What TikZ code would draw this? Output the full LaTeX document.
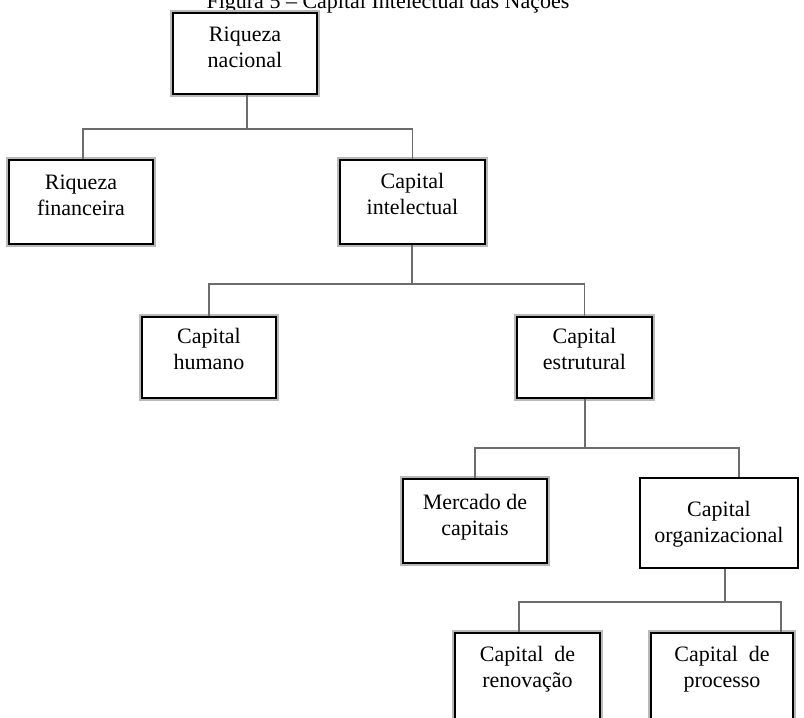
\documentclass[tikz,border=0pt]{standalone}
\usepackage{fontspec}
\setmainfont{Liberation Serif}
\begin{document}
\begin{tikzpicture}[x=1pt,y=-1pt,
  framebox/.style={draw=black, line width=1.5pt, fill=white, inner sep=0pt,
    preaction={draw=gray!55, line width=5.2pt}},
  plainbox/.style={draw=black, line width=1.3pt, fill=white, inner sep=0pt},
  lbl/.style={anchor=base, inner sep=0pt, font=\fontsize{22}{26}\selectfont},
  conn/.style={draw=gray!85!black, line width=1.6pt}]
\useasboundingbox (0,0) rectangle (804,718);
\clip (0,0) rectangle (804,718);

% caption, partly above the page edge
\node[anchor=base, inner sep=0pt, font=\fontsize{22}{26}\selectfont] (title) at (388,8)
  {Figura 5 – Capital Intelectual das Nações};

% boxes (corners given in page pixels)
\node[framebox, minimum width=144, minimum height=81] (rn) at (245,53.5) {};
\node[framebox, minimum width=144, minimum height=84] (rf) at (81,202) {};
\node[framebox, minimum width=145, minimum height=84] (ci) at (412.5,202) {};
\node[framebox, minimum width=134, minimum height=81] (ch) at (209,357.5) {};
\node[framebox, minimum width=135, minimum height=81] (ce) at (584.5,357.5) {};
\node[framebox, minimum width=144, minimum height=84] (mc) at (475,521) {};
\node[plainbox, minimum width=158, minimum height=90] (co) at (719,523) {};
\node[framebox, minimum width=145, minimum height=92] (cr) at (527.5,679) {};
\node[framebox, minimum width=142, minimum height=92] (cp) at (722,679) {};

% labels
\node[lbl] (rnt) at ([yshift=-29]rn.north) {\begin{tabular}[t]{@{}c@{}}Riqueza\\nacional\end{tabular}};
\node[lbl] (rft) at ([yshift=-30]rf.north) {\begin{tabular}[t]{@{}c@{}}Riqueza\\financeira\end{tabular}};
\node[lbl] (cit) at ([yshift=-29]ci.north) {\begin{tabular}[t]{@{}c@{}}Capital\\intelectual\end{tabular}};
\node[lbl] (cht) at ([yshift=-27]ch.north) {\begin{tabular}[t]{@{}c@{}}Capital\\humano\end{tabular}};
\node[lbl] (cet) at ([yshift=-27]ce.north) {\begin{tabular}[t]{@{}c@{}}Capital\\estrutural\end{tabular}};
\node[lbl] (mct) at ([yshift=-31]mc.north) {\begin{tabular}[t]{@{}c@{}}Mercado de\\capitais\end{tabular}};
\node[lbl] (cot) at ([yshift=-39]co.north) {\begin{tabular}[t]{@{}c@{}}Capital\\organizacional\end{tabular}};
\node[lbl] (crt) at ([yshift=-29]cr.north) {\begin{tabular}[t]{@{}c@{}}Capital\ \ de\\renovação\end{tabular}};
\node[lbl] (cpt) at ([yshift=-29]cp.north) {\begin{tabular}[t]{@{}c@{}}Capital\ \ de\\processo\end{tabular}};

% connectors
\coordinate (j1) at (247,129);
\coordinate (j2) at (412,284);
\coordinate (j3) at (585,448);
\coordinate (j4) at (725,602);

\draw[conn] (rn.south -| j1) -- (j1);
\draw[conn] ([xshift=2]rf.north) |- (j1) -| (ci.north);

\draw[conn] (ci.south -| j2) -- (j2);
\draw[conn] (ch.north) |- (j2) -| (ce.north);

\draw[conn] (ce.south -| j3) -- (j3);
\draw[conn] (mc.north) |- (j3) -| ([xshift=20]co.north);

\draw[conn] (co.south -| j4) -- (j4);
\draw[conn] ([xshift=-8.5]cr.north) |- (j4) -| ([xshift=59]cp.north);
\end{tikzpicture}
\end{document}
